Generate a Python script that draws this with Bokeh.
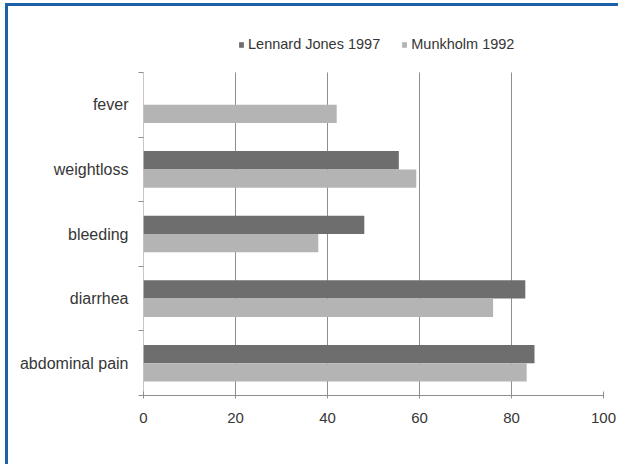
from bokeh.plotting import figure
from bokeh.models import (ColumnDataSource, Range1d, FixedTicker, Legend, LegendItem)
from bokeh.transform import dodge
from bokeh.embed import file_html
from bokeh.resources import INLINE

# ---- data (bottom to top) ----
categories = ["abdominal pain", "diarrhea", "bleeding", "weightloss", "fever"]
lennard_jones_1997 = [85.0, 83.0, 48.0, 55.5, float("nan")]
munkholm_1992 = [83.3, 76.0, 38.0, 59.3, 42.0]
x_ticks = [0, 20, 40, 60, 80, 100]
series_names = ["Lennard Jones 1997", "Munkholm 1992"]

FONT = "Liberation Sans"
TEXT = "#363636"
DARK = "#6e6e6e"
LIGHT = "#b4b4b4"
GRID = "#8e8e8e"
BLUE = "#1d62a8"

n = len(categories)
ypos = [i + 0.5 for i in range(n)]
src = ColumnDataSource(dict(y=ypos, cat=categories, lj=lennard_jones_1997, mk=munkholm_1992))

OX, OY = 8, 6  # figure origin on page
W, H = 610, 458
plot_top, plot_bottom = 72 - OY, 395 - OY      # canvas px of category block
frame_h = plot_bottom                           # frame starts at canvas top
shadow = f"-3px -3px 0px 0px {BLUE}, 0px -3px 0px 0px {BLUE}, -3px 0px 0px 0px {BLUE}"
p = figure(width=W, height=H, output_backend="svg", toolbar_location=None,
           x_range=Range1d(0, 100),
           y_range=Range1d(0, n * frame_h / (plot_bottom - plot_top)),
           min_border_left=143 - OX, min_border_right=W - (603 - OX),
           min_border_top=0, min_border_bottom=H - plot_bottom,
           styles={"margin-left": f"{OX}px", "margin-top": f"{OY}px",
                   "box-shadow": shadow})
p.outline_line_color = None
p.background_fill_color = "white"
p.border_fill_color = "white"
p.xgrid.visible = False
p.ygrid.visible = False

# vertical grid lines and value axis line, limited to the category block
grid_x = x_ticks[1:-1]
p.segment(x0=grid_x, x1=grid_x, y0=[0] * len(grid_x), y1=[n] * len(grid_x),
          line_color=GRID, line_width=1)
p.segment(x0=[0], x1=[0], y0=[0], y1=[n], line_color=GRID, line_width=1)

bh = 0.283
r1 = p.hbar(y=dodge("y", 0.1415, range=p.y_range), right="lj", left=0, height=bh,
            source=src, fill_color=DARK, line_color=None)
r2 = p.hbar(y=dodge("y", -0.1415, range=p.y_range), right="mk", left=0, height=bh,
            source=src, fill_color=LIGHT, line_color=None)

# x axis
xa = p.xaxis[0]
xa.ticker = FixedTicker(ticks=x_ticks)
xa.axis_line_color = GRID
xa.major_tick_line_color = GRID
xa.major_tick_in = 4
xa.major_tick_out = 3
xa.minor_tick_line_color = None
xa.major_label_standoff = 14
xa.major_label_text_font = FONT
xa.major_label_text_font_size = "15px"
xa.major_label_text_color = TEXT

# y axis: labels at category centres, ticks at category boundaries
ya = p.yaxis[0]
ya.ticker = FixedTicker(ticks=ypos, minor_ticks=list(range(n + 1)))
ya.major_label_overrides = {v: c for v, c in zip(ypos, categories)}
ya.axis_line_color = None
ya.major_tick_line_color = None
ya.major_tick_in = 0
ya.major_tick_out = 0
ya.minor_tick_line_color = GRID
ya.minor_tick_in = 0
ya.minor_tick_out = 5
ya.major_label_standoff = 10
ya.major_label_text_font = FONT
ya.major_label_text_font_size = "16px"
ya.major_label_text_color = TEXT

legend = Legend(items=[LegendItem(label=series_names[0], renderers=[r1]),
                       LegendItem(label=series_names[1], renderers=[r2])],
                orientation="horizontal", location=(95, plot_bottom - 46),
                glyph_width=6, glyph_height=7, label_standoff=4, spacing=21,
                padding=0, margin=0, label_height=16,
                label_text_font=FONT, label_text_font_size="14.5px",
                label_text_color=TEXT, border_line_color=None,
                background_fill_alpha=0)
p.add_layout(legend, "center")

open("out.html", "w").write(file_html(p, INLINE))
